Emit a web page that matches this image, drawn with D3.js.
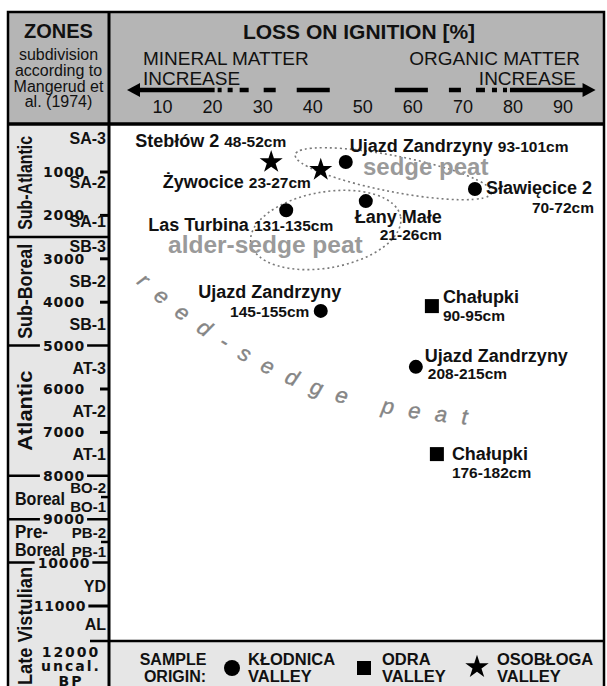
<!DOCTYPE html>
<html><head><meta charset="utf-8">
<script src="https://cdn.jsdelivr.net/npm/d3@7"></script>
<style>body{margin:0;background:#fff} svg{display:block}</style>
</head><body><svg id="c" width="607" height="686"></svg>
<script>
// ---------------- DATA ----------------
const lossTicks = [10,20,30,40,50,60,70,80,90];
const yearTicks = [1000,2000,3000,4000,5000,6000,7000,8000,9000,10000,11000];
const zoneNames = ["Sub-Atlantic","Sub-Boreal","Atlantic","Boreal","Pre-Boreal","Late Vistulian"];
const zoneBounds = [0,2500,5000,8000,9000,10000,12000];
const subzoneNames = ["SA-3","SA-2","SA-1","SB-3","SB-2","SB-1","AT-3","AT-2","AT-1","BO-2","BO-1","PB-2","PB-1","YD","AL"];
const subzoneAges  = [220,1235,2130,2705,3510,4500,5515,6505,7500,8280,8720,9320,9750,10535,11410];
const subzoneTicks = [8490,9525];

const sites   = ["Stebłów 2","Żywocice","Ujazd Zandrzyny","Sławięcice 2","Łany Małe","Las Turbina","Ujazd Zandrzyny","Chałupki","Ujazd Zandrzyny","Chałupki"];
const depths  = ["48-52cm","23-27cm","93-101cm","70-72cm","21-26cm","131-135cm","145-155cm","90-95cm","208-215cm","176-182cm"];
const loi     = [31.8,41.7,46.7,72.5,50.7,34.8,41.7,63.9,60.7,64.9];
const ageBP   = [770,950,770,1390,1670,1880,4200,4090,5490,7500];
const origin  = ["OSOBŁOGA","OSOBŁOGA","KŁODNICA","KŁODNICA","KŁODNICA","KŁODNICA","KŁODNICA","ODRA","KŁODNICA","ODRA"];
const origins = ["KŁODNICA","ODRA","OSOBŁOGA"];

// ---------------- LAYOUT / STYLE ----------------
const FONT = "'Liberation Sans', Arial, Helvetica, sans-serif";
const WIDE = "'DejaVu Sans', Verdana, sans-serif";
const labelLayout = [
  {inline:true, dx:-136, dy:-15},
  {inline:true, dx:-158, dy:18},
  {inline:true, dx:4, dy:-10},
  {nx:11, ny:5, na:"start", ddx:119, ddy:24, da:"end"},
  {nx:76, ny:22, na:"end", ddx:76, ddy:39, da:"end"},
  {inline:true, dx:-138, dy:21},
  {nx:-51, ny:-13, na:"middle", ddx:-51, ddy:6, da:"middle"},
  {nx:11, ny:-3, na:"start", ddx:11, ddy:15, da:"start"},
  {nx:9, ny:-5, na:"start", ddx:12, ddy:12, da:"start"},
  {nx:15, ny:6, na:"start", ddx:15, ddy:24, da:"start"}
];
const symbolType = {"KŁODNICA":d3.symbolCircle,"ODRA":d3.symbolSquare,"OSOBŁOGA":d3.symbolStar};
const symbolSize = {"KŁODNICA":154,"ODRA":196,"OSOBŁOGA":165};

const svg = d3.select("#c");
const x = d3.scaleLinear().domain([0,100]).range([112, 612.6]);
const y = d3.scaleLinear().domain([0,12000]).range([128.6, 649.4]);

const L = 8, T = 12, R = 604, COL = 109, HEAD = 124, BAND = 641;

// backgrounds
svg.append("rect").attr("x",L).attr("y",T).attr("width",R-L).attr("height",HEAD-T).attr("fill","#b5b5b5");
svg.append("rect").attr("x",L).attr("y",HEAD).attr("width",COL-L).attr("height",686-HEAD).attr("fill","#e6e6e6");
svg.append("rect").attr("x",COL).attr("y",BAND).attr("width",R-COL).attr("height",686-BAND).attr("fill","#e6e6e6");

// ---------- header ----------
const hd = svg.append("g").attr("font-family",FONT).attr("fill","#111");
hd.append("text").attr("x",58.5).attr("y",38).attr("text-anchor","middle").attr("font-weight","bold").attr("font-size",20).text("ZONES");
["subdivision","according to","Mangerud et","al. (1974)"].forEach((s,i)=>{
  hd.append("text").attr("x",58.5).attr("y",[60,76,91.5,107][i]).attr("text-anchor","middle").attr("font-size",16).text(s);
});
hd.append("text").attr("x",359).attr("y",39).attr("text-anchor","middle").attr("font-weight","bold").attr("font-size",21).text("LOSS ON IGNITION [%]");
hd.append("text").attr("x",143).attr("y",65).attr("font-size",19).text("MINERAL MATTER");
hd.append("text").attr("x",143).attr("y",85).attr("font-size",19).text("INCREASE");
hd.append("text").attr("x",580).attr("y",65).attr("text-anchor","end").attr("font-size",19).text("ORGANIC MATTER");
hd.append("text").attr("x",576).attr("y",85).attr("text-anchor","end").attr("font-size",19).text("INCREASE");

// arrow (segments in LOI units, mirrored)
const segR = [[56.5,63.1],[67.3,69.7],[72.7,74.5],[75.9,76.9],[78.1,78.9],[79.5,95]];
const segs = segR.concat(segR.map(s=>[100-s[1],100-s[0]]));
const AY = 90;
hd.selectAll("line.arr").data(segs).enter().append("line")
  .attr("x1",d=>x(d[0])).attr("x2",d=>x(d[1])).attr("y1",AY).attr("y2",AY)
  .attr("stroke","#000").attr("stroke-width",4.5);
const tipR = x(96.6), tipL = x(3.0);
hd.append("path").attr("d",`M${tipR},${AY} L${tipR-13},${AY-7} L${tipR-13},${AY+7} Z`).attr("fill","#000");
hd.append("path").attr("d",`M${tipL},${AY} L${tipL+13},${AY-7} L${tipL+13},${AY+7} Z`).attr("fill","#000");

// x tick labels via axis
const xAxis = d3.axisBottom(x).tickValues(lossTicks).tickSize(0).tickPadding(0);
const gx = svg.append("g").attr("transform","translate(0,100)").call(xAxis);
gx.select(".domain").remove();
gx.selectAll("text").attr("font-family",FONT).attr("font-size",18).attr("fill","#111");

// ---------- left column ----------
const lc = svg.append("g").attr("font-family",FONT).attr("fill","#111");
const bLines = [2500,5000,8000,9000,10000];
lc.selectAll("line.zb").data(bLines).enter().append("line")
  .attr("x1",L).attr("x2",COL).attr("y1",d=>y(d)).attr("y2",d=>y(d))
  .attr("stroke","#000").attr("stroke-width",2.5);
const shortT = [1000,2000,3000,4000,6000,7000];
lc.selectAll("line.st").data(shortT).enter().append("line")
  .attr("x1",100).attr("x2",COL).attr("y1",d=>y(d)).attr("y2",d=>y(d))
  .attr("stroke","#000").attr("stroke-width",3);
lc.selectAll("line.sz").data(subzoneTicks).enter().append("line")
  .attr("x1",101).attr("x2",COL).attr("y1",d=>y(d)).attr("y2",d=>y(d))
  .attr("stroke","#000").attr("stroke-width",2.5);
lc.append("line").attr("x1",86).attr("x2",COL).attr("y1",y(11000)).attr("y2",y(11000)).attr("stroke","#000").attr("stroke-width",3);

const yl = lc.selectAll("g.yl").data(yearTicks).enter().append("g");
yl.each(function(d){
  const g = d3.select(this);
  const t = g.append("text").attr("x",d===11000?60:64).attr("y",y(d)).attr("dy","0.36em")
    .attr("text-anchor","middle").attr("font-family",WIDE).attr("font-weight","bold")
    .attr("font-size",14).attr("letter-spacing",0.8).text(d);
  const bb = t.node().getBBox();
  g.insert("rect","text").attr("x",bb.x-3).attr("y",bb.y+2).attr("width",bb.width+5).attr("height",bb.height-4).attr("fill","#e6e6e6");
});
[["12000",657],["uncal.",671],["BP",686]].forEach(([s,yy])=>{
  lc.append("text").attr("x",71).attr("y",yy).attr("text-anchor","middle").attr("font-family",WIDE)
    .attr("font-weight","bold").attr("font-size",14).attr("letter-spacing",2).text(s);
});
lc.selectAll("text.sz").data(subzoneNames).enter().append("text")
  .attr("x",106).attr("y",(d,i)=>y(subzoneAges[i])).attr("dy","0.36em").attr("text-anchor","end")
  .attr("font-weight","bold").attr("font-size",(d)=>/BO|PB/.test(d)?15:16).text(d=>d);
const rot = [{n:0,len:94},{n:1,len:95},{n:2,len:80},{n:5,len:118}];
rot.forEach(r=>{
  const cy = r.n===5 ? 626 : (y(zoneBounds[r.n])+y(zoneBounds[r.n+1]))/2;
  lc.append("text").attr("transform",`translate(32,${cy}) rotate(-90)`).attr("text-anchor","middle")
    .attr("font-weight","bold").attr("font-size",20).attr("textLength",r.len).attr("lengthAdjust","spacingAndGlyphs")
    .text(zoneNames[r.n]);
});
lc.append("text").attr("x",15).attr("y",505).attr("font-weight","bold").attr("font-size",19).attr("textLength",50).attr("lengthAdjust","spacingAndGlyphs").text("Boreal");
lc.append("text").attr("x",15).attr("y",538).attr("font-weight","bold").attr("font-size",18).attr("textLength",33).attr("lengthAdjust","spacingAndGlyphs").text("Pre-");
lc.append("text").attr("x",15).attr("y",556).attr("font-weight","bold").attr("font-size",18).attr("textLength",50).attr("lengthAdjust","spacingAndGlyphs").text("Boreal");

// ---------- plot annotations ----------
const ann = svg.append("g");
const ellipses = [
  {loi:56.2, age:1040, rx:100, ry:18, rot:11},
  {loi:42.7, age:2336, rx:76, ry:38, rot:-10}
];
ann.selectAll("ellipse").data(ellipses).enter().append("ellipse")
  .attr("transform",d=>`translate(${x(d.loi)},${y(d.age)}) rotate(${d.rot})`)
  .attr("rx",d=>d.rx).attr("ry",d=>d.ry).attr("fill","none")
  .attr("stroke","#7a7a7a").attr("stroke-width",1.6).attr("stroke-dasharray","2,3");
ann.append("text").attr("x",363).attr("y",175).attr("font-family",FONT).attr("font-weight","bold")
  .attr("font-size",24).attr("fill","#9a9a9a").text("sedge peat");
ann.append("text").attr("x",168).attr("y",253).attr("font-family",FONT).attr("font-weight","bold")
  .attr("font-size",24.5).attr("fill","#9a9a9a").text("alder-sedge peat");
const reedPts = [[136,283],[200,334],[316,395],[443,422],[510,426]];
ann.append("path").attr("id","reedPath").attr("d",d3.line().curve(d3.curveNatural)(reedPts)).attr("fill","none");
ann.append("text").attr("font-family",FONT).attr("font-style","italic").attr("font-size",22)
  .attr("fill","#858585").attr("letter-spacing",14.8).attr("stroke","#858585").attr("stroke-width",0.4)
  .append("textPath").attr("href","#reedPath").text("reed-sedge peat");

// ---------- points ----------
const pts = svg.append("g");
pts.selectAll("path.pt").data(d3.range(sites.length)).enter().append("path")
  .attr("transform",i=>`translate(${x(loi[i])},${y(ageBP[i])})`)
  .attr("d",i=>d3.symbol().type(symbolType[origin[i]]).size(symbolSize[origin[i]])())
  .attr("fill","#000");
const lab = svg.append("g").attr("font-family",FONT).attr("font-weight","bold").attr("fill","#111");
d3.range(sites.length).forEach(i=>{
  const px = x(loi[i]), py = y(ageBP[i]), l = labelLayout[i];
  if (l.inline) {
    const t = lab.append("text").attr("x",px+l.dx).attr("y",py+l.dy);
    t.append("tspan").attr("font-size",18).text(sites[i]+" ");
    t.append("tspan").attr("font-size",15.5).text(depths[i]);
  } else {
    lab.append("text").attr("x",px+l.nx).attr("y",py+l.ny).attr("text-anchor",l.na).attr("font-size",18).text(sites[i]);
    lab.append("text").attr("x",px+l.ddx).attr("y",py+l.ddy).attr("text-anchor",l.da).attr("font-size",15.5).text(depths[i]);
  }
});

// ---------- legend ----------
const lg = svg.append("g").attr("font-family",FONT).attr("font-weight","bold").attr("fill","#111").attr("font-size",16);
lg.append("text").attr("x",173).attr("y",665).attr("text-anchor","middle").text("SAMPLE");
lg.append("text").attr("x",175).attr("y",682).attr("text-anchor","middle").text("ORIGIN:");
const legPos = [{sx:232,sy:668,tx:248,size:201},{sx:364,sy:668,tx:382,size:196},{sx:477,sy:667,tx:497,size:170}];
origins.forEach((o,i)=>{
  const p = legPos[i];
  lg.append("path").attr("transform",`translate(${p.sx},${p.sy})`).attr("d",d3.symbol().type(symbolType[o]).size(p.size)()).attr("fill","#000");
  lg.append("text").attr("x",p.tx).attr("y",665).attr("font-size",16.5).text(o);
  lg.append("text").attr("x",p.tx).attr("y",682).attr("font-size",16.5).text("VALLEY");
});

// ---------- frame lines ----------
const fr = svg.append("g").attr("stroke","#000").attr("fill","none");
fr.append("rect").attr("x",L).attr("y",T).attr("width",R-L).attr("height",700).attr("stroke-width",2.5);
fr.append("line").attr("x1",COL).attr("x2",COL).attr("y1",T).attr("y2",686).attr("stroke-width",3);
fr.append("line").attr("x1",L).attr("x2",R).attr("y1",HEAD).attr("y2",HEAD).attr("stroke-width",3.5);
fr.append("line").attr("x1",90).attr("x2",R).attr("y1",BAND).attr("y2",BAND).attr("stroke-width",2.5);
</script></body></html>
